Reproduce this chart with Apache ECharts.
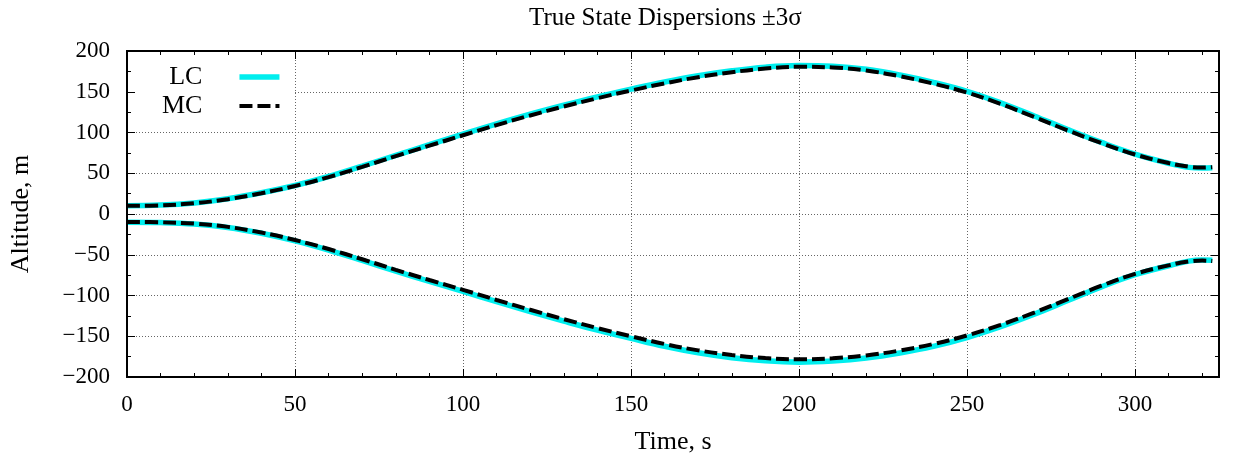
<!DOCTYPE html>
<html><head><meta charset="utf-8">
<script src="https://cdn.jsdelivr.net/npm/echarts/dist/echarts.min.js"></script>
<style>html,body{margin:0;padding:0;background:#fff}#c{width:1234px;height:461px}</style>
</head><body><div id="c"></div>
<script>
// ---- data ----
const time = [0,10,20,30,40,50,60,70,80,90,100,110,120,130,140,150,160,170,180,190,200,210,220,230,240,250,260,270,280,290,300,310,316,320,323];
const mcUpper = [10,10.6,13.2,18.2,25.4,34.4,45.2,57.8,71,83.8,96.6,109.1,120.9,131.9,142.1,151.5,160.3,167.9,174,178.5,180.6,179.8,176,169,160,149,135,119,102.5,87,73,62.5,58,57,57.5];
const lcUpper = [10.2,10.9,13.6,18.7,26,35,46,58.7,72,85,98,110.6,122.5,133.5,143.8,153.2,162,169.6,175.7,180.2,182.2,181.4,177.6,170.6,161.5,150.5,136.4,120.3,103.6,87.8,73.5,62.3,57.2,56.3,56.7];
const mcLower = [-9.8,-10.2,-11.8,-15.8,-22.8,-31.9,-43,-55.5,-68.5,-81,-93,-105.5,-117.5,-129,-140,-150,-159.5,-167.3,-173,-176.8,-178.3,-177,-173.5,-167.5,-159.5,-149,-136,-121,-104.5,-88,-73.5,-63,-58.3,-57.2,-57.8];
const lcLower = [-10,-10.5,-12.3,-16.5,-23.7,-33,-44.3,-57,-70.2,-82.8,-95,-107.6,-119.8,-131.4,-142.5,-152.6,-162.3,-170.3,-176.3,-180.2,-181.8,-180.4,-176.8,-170.6,-162.4,-151.6,-138.3,-123,-106.2,-89.4,-74.5,-63.5,-57.8,-56.4,-56.8];
const seriesNames = ['LC', 'MC'];
const titleText = 'True State Dispersions \u00b13\u03c3';
const xName = 'Time, s';
const yName = 'Altitude, m';
const xMin = 0, xMax = 325, xMajor = 50, xMinor = 10;
const yMin = -200, yMax = 200, yMajor = 50;

const pairs = (vals) => time.map((t, i) => [t, vals[i]]);
const FONT = 'Liberation Serif';
const fmt = (v) => (v % 50 === 0 ? String(v).replace('-', '\u2212') : '');

const hidden = {axisLine:{show:false}, axisTick:{show:false}, axisLabel:{show:false}, splitLine:{show:false}};
const tickAxisX = (pos, interval, len, withLabels) => ({
  type:'value', gridIndex:0, position:pos, min:xMin, max:xMax, interval:interval, z:5,
  axisLine:{show:true, onZero:false, lineStyle:{color:'#000', width:2}},
  axisTick:{show:true, inside:true, length:len, lineStyle:{color:'#000', width:1}},
  axisLabel: withLabels ? {show:true, margin:16, color:'#000', fontFamily:FONT, fontSize:23, formatter:fmt, showMaxLabel:false} : {show:false},
  splitLine:{show:false}
});
const tickAxisY = (pos, withLabels) => ({
  type:'value', gridIndex:0, position:pos, min:yMin, max:yMax, interval:yMajor, z:5,
  axisLine:{show:true, onZero:false, lineStyle:{color:'#000', width:2}},
  axisTick:{show:true, inside:true, length:8, lineStyle:{color:'#000', width:1}},
  minorTick:{show:true, splitNumber:2, length:4, lineStyle:{color:'#000', width:1}},
  axisLabel: withLabels ? {show:true, margin:17, color:'#000', fontFamily:FONT, fontSize:23, formatter:fmt} : {show:false},
  splitLine:{show:false}
});
const gridDots = {show:true, lineStyle:{color:'#666', width:1, type:[1,2]}};

const xAxes = [
  Object.assign(tickAxisX('bottom', xMajor, 8, true), {name:xName, nameLocation:'middle', nameGap:52, nameMoveOverlap:false,
    nameTextStyle:{color:'#000', fontFamily:FONT, fontSize:26}}),
  tickAxisX('bottom', xMinor, 4, false),
  tickAxisX('top', xMajor, 8, false),
  tickAxisX('top', xMinor, 4, false),
  Object.assign({type:'value', gridIndex:0, position:'bottom', min:xMin, max:xMax, interval:xMajor, z:0}, hidden, {splitLine:gridDots})
];
const yAxes = [
  Object.assign(tickAxisY('left', true), {name:yName, nameLocation:'middle', nameGap:93, nameMoveOverlap:false,
    nameTextStyle:{color:'#000', fontFamily:FONT, fontSize:26}}),
  tickAxisY('right', false),
  Object.assign({type:'value', gridIndex:0, position:'left', min:yMin, max:yMax, interval:yMajor, z:0}, hidden, {splitLine:gridDots})
];

const lcStyle = {color:'#00eeee', width:5.5, type:'solid'};
const mcStyle = {color:'#000', width:4, type:[13,5]};
const mk = (name, vals, ls, z) => ({
  name:name, type:'line', xAxisIndex:0, yAxisIndex:0, data:pairs(vals), symbol:'none', smooth:0.4,
  lineStyle:ls, itemStyle:{color:ls.color}, z:z, animation:false, silent:true
});

const option = {
  animation:false,
  backgroundColor:'#fff',
  title:{text:titleText, left:524, top:1, textStyle:{color:'#000', fontFamily:FONT, fontSize:25, fontWeight:'normal'}},
  grid:{left:127, right:15, top:51, bottom:84, containLabel:false, outerBoundsMode:'none'},
  legend:{
    orient:'vertical', left:157, top:59, align:'right', itemWidth:40, itemHeight:14, itemGap:3,
    textStyle:{color:'#000', fontFamily:FONT, fontSize:26, lineHeight:26, padding:[0,32,0,0]},
    itemStyle:{opacity:0},
    data:[{name:seriesNames[0], lineStyle:{width:5.5}, itemStyle:{opacity:0}}, {name:seriesNames[1], lineStyle:{width:4}, itemStyle:{opacity:0}}],
    selectedMode:false
  },
  graphic:{elements:[{type:'rect', shape:{x:129, y:53, width:164, height:67}, style:{fill:'#fff'}, z:1, silent:true}]},
  xAxis:xAxes,
  yAxis:yAxes,
  series:[
    mk(seriesNames[0], lcUpper, lcStyle, 2),
    mk(seriesNames[0], lcLower, lcStyle, 2),
    mk(seriesNames[1], mcUpper, mcStyle, 3),
    mk(seriesNames[1], mcLower, mcStyle, 3)
  ]
};
echarts.init(document.getElementById('c'), null, {renderer:'canvas'}).setOption(option);
</script></body></html>
